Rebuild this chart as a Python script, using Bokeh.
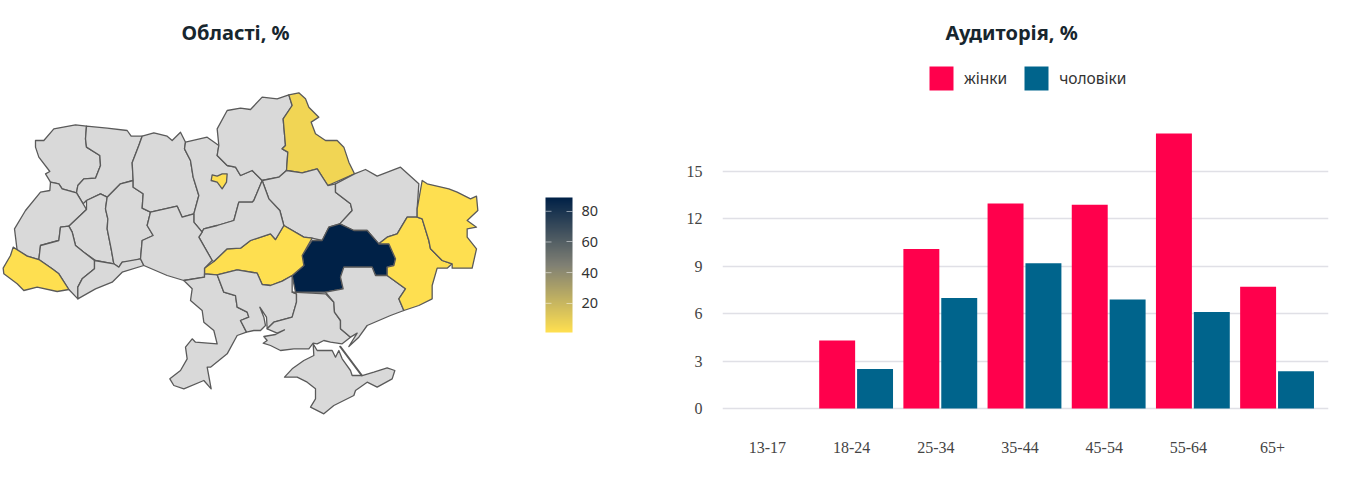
import numpy as np
from bokeh.embed import file_html
from bokeh.resources import INLINE
from bokeh.layouts import row
from bokeh.models import (ColumnDataSource, ColorBar, FixedTicker, Legend, LegendItem,
                          LinearColorMapper, Range1d)
from bokeh.plotting import figure

# ---------- bar chart data ----------
age_groups = ["13-17", "18-24", "25-34", "35-44", "45-54", "55-64", "65+"]
women = [0, 4.3, 10.1, 12.97, 12.9, 17.4, 7.7]
men = [0, 2.5, 7.0, 9.2, 6.9, 6.1, 2.35]
y_ticks = [0, 3, 6, 9, 12, 15]

# ---------- map data: oblast outlines (map units) ----------
volyn = [(105,165),(130,165),(160,130),(225,118),(258,122),(255,160),(258,185),(298,210),(300,240),(285,278),(250,280),(232,300),(228,322),(185,310),(175,295),(150,290),(135,265),(148,258),(115,215),(105,185)]
rivne = [(258,122),(320,128),(380,135),(392,152),(425,152),(415,180),(395,232),(398,285),(360,295),(320,335),(300,325),(258,345),(248,355),(228,322),(232,300),(250,280),(285,278),(300,240),(298,210),(258,185),(255,160)]
lviv = [(150,290),(175,295),(185,310),(228,322),(248,355),(258,372),(205,422),(180,425),(175,465),(120,480),(115,522),(80,512),(50,495),(42,430),(75,375),(120,320),(148,315)]
ternopil = [(258,345),(300,325),(320,335),(315,370),(322,400),(320,430),(332,490),(340,535),(285,525),(250,500),(225,480),(215,440),(205,422),(258,372)]
khmelnytskyi = [(320,335),(360,295),(398,285),(398,305),(428,325),(425,368),(450,380),(440,420),(458,450),(425,465),(420,520),(385,530),(365,530),(355,545),(340,535),(332,490),(320,430),(322,400),(315,370)]
ivano_frankivsk = [(205,422),(215,440),(225,480),(250,500),(282,525),(282,550),(245,580),(232,605),(232,640),(205,612),(175,565),(155,550),(115,522),(120,480),(175,465),(180,425)]
chernivtsi = [(282,525),(340,535),(355,545),(365,530),(420,520),(430,540),(365,560),(335,590),(285,610),(232,640),(232,605),(245,580),(282,550)]
zakarpattia = [(38,485),(80,512),(115,522),(155,550),(175,565),(205,612),(170,618),(110,605),(70,615),(50,595),(10,565),(8,548),(30,510)]
zhytomyr = [(425,152),(460,142),(500,152),(515,165),(540,140),(555,170),(552,190),(570,225),(578,275),(595,330),(580,385),(545,395),(530,362),(450,380),(425,368),(428,325),(398,305),(398,285),(395,232),(415,180)]
kyiv_obl = [(555,170),(620,155),(655,180),(650,210),(680,240),(705,245),(720,270),(755,255),(785,285),(760,345),(755,350),(715,350),(700,405),(650,420),(610,430),(605,440),(580,410),(580,385),(595,330),(578,275),(570,225),(552,190)]
kyiv_city = [(635,268),(650,272),(665,265),(680,265),(678,290),(665,310),(650,290),(632,285)]
chernihiv = [(655,180),(650,130),(680,75),(720,68),(750,72),(785,35),(830,40),(865,28),(875,60),(848,100),(855,180),(845,190),(862,200),(858,255),(835,275),(785,285),(755,255),(720,270),(705,245),(680,240),(650,210)]
sumy = [(865,28),(895,22),(915,40),(925,65),(955,95),(932,110),(945,145),(975,165),(1010,165),(1030,185),(1045,230),(1062,265),(982,300),(950,250),(905,262),(858,255),(862,200),(845,190),(855,180),(848,100),(875,60)]
poltava = [(785,285),(835,275),(858,255),(905,262),(950,250),(982,300),(1005,295),(1005,320),(1050,355),(1055,375),(1018,415),(985,425),(965,465),(935,458),(910,455),(850,420),(838,375),(805,340)]
kharkiv = [(1005,295),(1062,265),(1095,252),(1130,272),(1200,245),(1255,295),(1250,370),(1250,395),(1220,395),(1190,445),(1160,455),(1135,475),(1100,435),(1060,435),(1018,415),(1055,375),(1050,355),(1005,320)]
dnipro = [(1018,415),(1060,435),(1100,435),(1135,475),(1165,475),(1185,520),(1180,540),(1160,545),(1160,570),(1125,570),(1115,545),(1030,545),(1020,575),(1028,610),(975,620),(885,620),(875,570),(910,540),(905,510),(935,465),(965,465),(985,425)]
kirovohrad = [(612,548),(640,528),(680,490),(720,488),(750,465),(810,445),(825,462),(850,420),(910,455),(935,458),(905,510),(910,540),(875,570),(845,587),(810,600),(785,597),(770,563),(710,553),(650,568),(612,565)]
cherkasy = [(595,455),(610,430),(650,420),(700,405),(715,350),(755,350),(760,345),(785,285),(805,340),(838,375),(850,420),(825,462),(810,445),(750,465),(720,488),(680,490),(640,528),(635,525)]
vinnytsia = [(450,380),(530,362),(545,395),(580,385),(580,410),(605,440),(595,455),(635,525),(612,548),(612,575),(550,585),(500,570),(430,540),(420,520),(425,465),(458,450),(440,420)]
odesa = [(550,585),(612,575),(612,565),(650,568),(670,620),(705,630),(710,665),(740,680),(745,695),(720,705),(738,740),(710,750),(680,805),(630,845),(620,845),(632,910),(610,885),(550,910),(520,900),(508,880),(540,855),(560,820),(555,785),(575,760),(585,770),(650,775),(640,735),(610,710),(605,675),(570,645),(575,610)]
mykolaiv = [(650,568),(710,553),(770,563),(785,597),(810,600),(845,587),(875,570),(875,620),(888,625),(888,650),(875,695),(820,710),(800,730),(798,695),(778,665),(790,695),(795,720),(780,735),(760,735),(738,740),(720,705),(745,695),(740,680),(710,665),(705,630),(670,620)]
kherson = [(875,620),(975,625),(1000,650),(1002,680),(1020,705),(1020,730),(1050,755),(1025,775),(990,770),(970,765),(950,775),(938,773),(925,790),(880,790),(840,795),(810,780),(788,773),(800,765),(790,753),(825,747),(852,733),(830,743),(800,730),(820,710),(875,695),(888,650),(888,625)]
zaporizhzhia = [(975,620),(1028,610),(1020,575),(1030,545),(1115,545),(1125,570),(1160,570),(1215,610),(1195,640),(1210,675),(1170,690),(1100,720),(1075,755),(1045,783),(1070,743),(1050,755),(1020,730),(1020,705),(1002,680),(1000,650)]
donetsk = [(1220,395),(1250,395),(1265,400),(1285,465),(1290,490),(1325,525),(1355,535),(1340,548),(1310,548),(1295,600),(1295,640),(1255,660),(1210,675),(1195,640),(1215,610),(1160,570),(1160,545),(1180,540),(1185,520),(1165,475),(1135,475),(1160,455),(1190,445)]
luhansk = [(1265,285),(1280,295),(1345,310),(1370,320),(1410,340),(1428,332),(1432,375),(1400,405),(1428,425),(1400,430),(1400,455),(1428,490),(1415,548),(1355,548),(1355,535),(1325,525),(1290,490),(1285,465),(1265,400),(1250,395),(1250,370)]
crimea = [(938,775),(940,810),(910,825),(875,850),(852,875),(890,875),(920,890),(945,910),(945,940),(930,965),(970,985),(1000,960),(1060,930),(1065,915),(1100,890),(1130,905),(1175,880),(1183,855),(1160,847),(1120,860),(1085,870),(1055,870),(1050,855),(1025,820),(1015,795),(1005,815),(995,795),(970,795),(950,795)]
arabat = [(1018,783),(1020,783),(1085,870),(1083,870)]

no_data = float("nan")
regions = [
    ("Волинська", volyn, no_data), ("Рівненська", rivne, no_data), ("Львівська", lviv, no_data),
    ("Тернопільська", ternopil, no_data), ("Хмельницька", khmelnytskyi, no_data),
    ("Івано-Франківська", ivano_frankivsk, no_data), ("Чернівецька", chernivtsi, no_data),
    ("Закарпатська", zakarpattia, 1.5), ("Житомирська", zhytomyr, no_data), ("Київська", kyiv_obl, no_data),
    ("Київ", kyiv_city, 1.5), ("Чернігівська", chernihiv, no_data), ("Сумська", sumy, 6),
    ("Полтавська", poltava, no_data), ("Харківська", kharkiv, no_data), ("Дніпропетровська", dnipro, 89),
    ("Кіровоградська", kirovohrad, 1.5), ("Черкаська", cherkasy, no_data), ("Вінницька", vinnytsia, no_data),
    ("Одеська", odesa, no_data), ("Миколаївська", mykolaiv, no_data), ("Херсонська", kherson, no_data),
    ("Запорізька", zaporizhzhia, no_data), ("Донецька", donetsk, 1.5), ("Луганська", luhansk, 1.5),
    ("Крим", crimea, no_data), ("Арабатська стрілка", arabat, no_data),
]
legend_ticks = [20, 40, 60, 80]
scale_low, scale_high = 1, 89

# ---------- colour scale ----------
stops = np.array([[255, 224, 80], [128, 128, 116], [0, 33, 71]], dtype=float)
palette = []
for t in np.linspace(0, 1, 256):
    c = [np.interp(t, [0, .5, 1], stops[:, i]) for i in range(3)]
    palette.append("#%02x%02x%02x" % tuple(int(round(v)) for v in c))
mapper = LinearColorMapper(palette=palette, low=scale_low, high=scale_high, nan_color="#d9d9d9")

TITLE_COLOR = "#17262e"

# ---------- map ----------
src = ColumnDataSource(dict(
    name=[r[0] for r in regions],
    xs=[[pt[0] for pt in r[1]] for r in regions],
    ys=[[pt[1] for pt in r[1]] for r in regions],
    value=np.array([r[2] for r in regions], dtype=float),
))
m = figure(width=668, height=476, output_backend="svg", toolbar_location=None,
           x_range=Range1d(0, 2004), y_range=Range1d(1005, -87),
           min_border_left=0, min_border_right=0, min_border_bottom=56, min_border_top=56,
           title="Області, %")
m.patches("xs", "ys", source=src, fill_color={"field": "value", "transform": mapper},
          line_color="#5a5a5a", line_width=1.3, line_join="round")
m.axis.visible = False
m.grid.visible = False
m.outline_line_color = None
m.title.align = "left"
m.title.offset = 181
m.title.standoff = 20
m.title.vertical_align = "middle"
m.title.text_font = "Noto Sans"
m.title.text_font_size = "20px"
m.title.text_font_style = "bold"
m.title.text_color = TITLE_COLOR

cb = ColorBar(color_mapper=mapper, ticker=FixedTicker(ticks=legend_ticks), width=27, height=135,
              location=(545, 88), padding=0, margin=0, label_standoff=9,
              major_label_text_font="Noto Sans", major_label_text_font_size="14.5px",
              major_label_text_color="#333333", major_tick_line_color="#ffffff",
              major_tick_line_alpha=0.5, major_tick_in=6, minor_tick_line_color=None,
              bar_line_color=None, border_line_color=None, background_fill_alpha=0)
m.add_layout(cb, "center")

# left-hand tick marks of the colour bar (bar spans 741 to 336 in map units)
tick_y = [741 - (v - scale_low) / (scale_high - scale_low) * 405 for v in legend_ticks]
m.segment(x0=[1635] * len(tick_y), y0=tick_y, x1=[1653] * len(tick_y), y1=tick_y,
          line_color="#ffffff", line_alpha=0.5, line_width=1, level="overlay")

# ---------- bars ----------
pos = list(range(len(age_groups)))
p = figure(width=672, height=476, output_backend="svg", toolbar_location=None,
           x_range=Range1d(-0.534, 6.664), y_range=Range1d(-0.76, 22.28),
           min_border_left=54, min_border_right=12, min_border_bottom=56, min_border_top=56,
           title="Аудиторія, %")
shift, half = 0.053, 0.225
r_w = p.vbar(x=[i + shift - half for i in pos], top=women, width=0.427, fill_color="#ff004c", line_color=None)
r_m = p.vbar(x=[i + shift + half for i in pos], top=men, width=0.427, fill_color="#00648c", line_color=None)
p.title.align = "left"
p.title.offset = 223
p.title.standoff = 20
p.title.vertical_align = "middle"
p.title.text_font = "Noto Sans"
p.title.text_font_size = "20px"
p.title.text_font_style = "bold"
p.title.text_color = TITLE_COLOR
p.outline_line_color = None
p.xgrid.visible = False
p.ygrid.grid_line_color = "#e0e0e6"
p.ygrid.grid_line_width = 1.3
p.yaxis.ticker = FixedTicker(ticks=y_ticks)
p.xaxis.ticker = FixedTicker(ticks=pos)
p.xaxis.major_label_overrides = dict(zip(pos, age_groups))
for ax in (p.xaxis[0], p.yaxis[0]):
    ax.axis_line_color = None
    ax.major_tick_line_color = None
    ax.minor_tick_line_color = None
    ax.major_label_text_font = "Liberation Serif"
    ax.major_label_text_font_size = "16px"
    ax.major_label_text_color = "#444444"
p.xaxis.major_label_standoff = 15
p.yaxis.major_label_standoff = 14

legend = Legend(items=[LegendItem(label="жінки", renderers=[r_w]), LegendItem(label="чоловіки", renderers=[r_m])],
                orientation="horizontal", location=(204, 327), glyph_width=30, glyph_height=30,
                label_standoff=8, spacing=14, padding=0, margin=0, border_line_color=None,
                background_fill_alpha=0, label_text_font="Noto Sans", label_text_font_size="15.5px",
                label_text_color="#333333")
p.add_layout(legend, "center")

page = row(m, p, spacing=0)
open("out.html", "w").write(file_html(page, INLINE))
